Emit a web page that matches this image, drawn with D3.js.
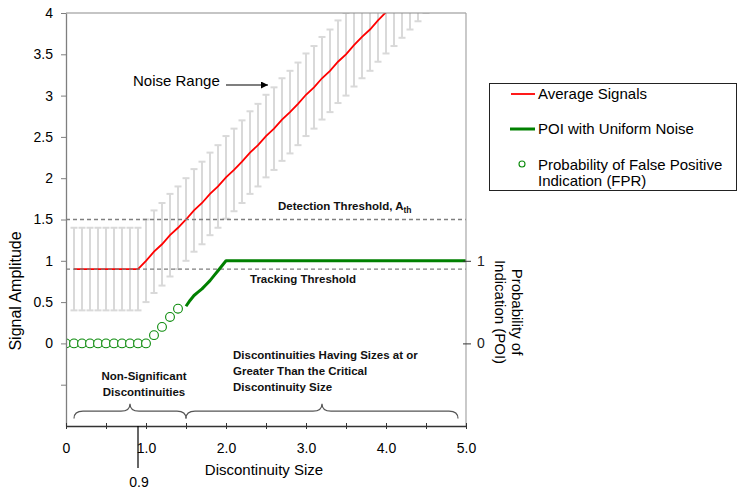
<!DOCTYPE html>
<html>
<head>
<meta charset="utf-8">
<script src="https://cdn.jsdelivr.net/npm/d3@7"></script>
<style>
  body { margin: 0; background: #fff; }
  svg { display: block; font-family: "Liberation Sans", Arial, sans-serif; }
</style>
</head>
<body>
<svg id="chart" width="739" height="494"></svg>
<script>
// Discontinuity sizes at which the average signal and noise range are sampled
const discontinuitySizes = [
  0.1, 0.2, 0.3, 0.4, 0.5, 0.6, 0.7, 0.8, 0.9, 1.0,
  1.1, 1.2, 1.3, 1.4, 1.5, 1.6, 1.7, 1.8, 1.9, 2.0,
  2.1, 2.2, 2.3, 2.4, 2.5, 2.6, 2.7, 2.8, 2.9, 3.0,
  3.1, 3.2, 3.3, 3.4, 3.5, 3.6, 3.7, 3.8, 3.9, 4.0,
  4.1, 4.2, 4.3, 4.4, 4.5, 4.6, 4.7, 4.8, 4.9, 5.0
];
// Average signal amplitude at each size
const averageSignals = [
  0.90, 0.90, 0.90, 0.90, 0.90, 0.90, 0.90, 0.90, 0.90, 1.00,
  1.11, 1.20, 1.31, 1.40, 1.50, 1.61, 1.70, 1.81, 1.90, 2.01,
  2.10, 2.20, 2.31, 2.40, 2.51, 2.60, 2.71, 2.80, 2.90, 3.01,
  3.10, 3.21, 3.30, 3.41, 3.50, 3.61, 3.71, 3.80, 3.91, 4.01,
  4.10, 4.20, 4.30, 4.40, 4.50, 4.60, 4.70, 4.80, 4.90, 5.00
];
// Half-width of the uniform noise band around the average signal
const noiseHalfRange = 0.5;

// Probability of indication with uniform noise
const poiSizes  = [1.50, 1.55, 1.60, 1.65, 1.70, 1.75, 1.80, 1.85, 1.90, 1.95, 2.00, 5.00];
const poiValues = [0.45, 0.52, 0.58, 0.62, 0.66, 0.71, 0.76, 0.82, 0.88, 0.94, 1.00, 1.00];

// Probability of false positive indication
const fprSizes  = [0.0, 0.1, 0.2, 0.3, 0.4, 0.5, 0.6, 0.7, 0.8, 0.9, 1.0, 1.1, 1.2, 1.3, 1.4];
const fprValues = [0.0, 0.0, 0.0, 0.0, 0.0, 0.0, 0.0, 0.0, 0.0, 0.0, 0.0, 0.10, 0.20, 0.32, 0.42];

const xTickValues = [0, 0.5, 1, 1.5, 2, 2.5, 3, 3.5, 4, 4.5, 5];
const xTickLabels = ["0", "", "1.0", "", "2.0", "", "3.0", "", "4.0", "", "5.0"];
const yTickValues = [-0.5, 0, 0.5, 1, 1.5, 2, 2.5, 3, 3.5, 4];
const yTickLabels = ["", "0", "0.5", "1", "1.5", "2", "2.5", "3", "3.5", "4"];
const poiTickValues = [0, 1];

const detectionThreshold = 1.5;
const trackingThreshold = 0.9;
const criticalSize = 0.9;

const svg = d3.select("#chart");

const x = d3.scaleLinear().domain([0, 5]).range([66, 466]);
const y = d3.scaleLinear().domain([-1, 4]).range([426, 13]);
const yPoi = d3.scaleLinear().domain([0, 1]).range([y(0), y(1)]);

svg.append("defs").append("clipPath").attr("id", "plotClip")
  .append("rect")
  .attr("x", x(0)).attr("y", y(4))
  .attr("width", x(5) - x(0)).attr("height", y(-1) - y(4));

svg.select("defs").append("marker")
  .attr("id", "arrowHead").attr("viewBox", "0 0 10 10")
  .attr("refX", 10).attr("refY", 5)
  .attr("markerWidth", 8).attr("markerHeight", 7)
  .attr("markerUnits", "userSpaceOnUse")
  .attr("orient", "auto")
  .append("path").attr("d", "M0,0 L10,5 L0,10 z").attr("fill", "#000");

const plot = svg.append("g").attr("clip-path", "url(#plotClip)");

// Noise range bars around the average signal
const bars = plot.append("g").attr("stroke", "#d9d9d9").attr("stroke-width", 2);
discontinuitySizes.forEach((s, i) => {
  const lo = averageSignals[i] - noiseHalfRange;
  const hi = averageSignals[i] + noiseHalfRange;
  const cx = x(s);
  bars.append("line").attr("x1", cx).attr("x2", cx).attr("y1", y(lo)).attr("y2", y(hi));
  bars.append("line").attr("x1", cx - 3.5).attr("x2", cx + 3.5).attr("y1", y(hi)).attr("y2", y(hi));
  bars.append("line").attr("x1", cx - 3.5).attr("x2", cx + 3.5).attr("y1", y(lo)).attr("y2", y(lo));
});

// Average signal line
plot.append("path")
  .datum(discontinuitySizes.map((s, i) => [s, averageSignals[i]]))
  .attr("fill", "none").attr("stroke", "#ff0000").attr("stroke-width", 1.8)
  .attr("d", d3.line().x(d => x(d[0])).y(d => y(d[1])));

// Threshold lines
[detectionThreshold, trackingThreshold].forEach(t => {
  plot.append("line")
    .attr("x1", x(0)).attr("x2", x(5))
    .attr("y1", y(t)).attr("y2", y(t))
    .attr("stroke", "#7f7f7f").attr("stroke-width", 1.3)
    .attr("stroke-dasharray", "4,3");
});

// POI line
plot.append("path")
  .datum(poiSizes.map((s, i) => [s, poiValues[i]]))
  .attr("fill", "none").attr("stroke", "#008000").attr("stroke-width", 3)
  .attr("stroke-linejoin", "round")
  .attr("d", d3.line().x(d => x(d[0])).y(d => yPoi(d[1])));

// False positive markers
plot.append("g").selectAll("circle")
  .data(fprSizes.map((s, i) => [s, fprValues[i]]))
  .join("circle")
  .attr("cx", d => x(d[0])).attr("cy", d => yPoi(d[1])).attr("r", 4.4)
  .attr("fill", "#fff").attr("stroke", "#0a8a0a").attr("stroke-width", 1.1);

// Frame: top and right edges
svg.append("line").attr("x1", x(0)).attr("x2", x(5)).attr("y1", y(4)).attr("y2", y(4))
  .attr("stroke", "#8c8c8c").attr("stroke-width", 1.2);
svg.append("line").attr("x1", x(5)).attr("x2", x(5)).attr("y1", y(4)).attr("y2", y(-1))
  .attr("stroke", "#a6a6a6").attr("stroke-width", 1.2);

// Left axis
const yAxis = svg.append("g").attr("transform", `translate(${x(0)},0)`)
  .call(d3.axisLeft(y).tickValues(yTickValues).tickSize(5).tickSizeOuter(0).tickPadding(8)
    .tickFormat((d, i) => yTickLabels[i]));
yAxis.select(".domain").attr("stroke", "#7f7f7f").attr("stroke-width", 1.3);
yAxis.selectAll(".tick line").attr("stroke", "#7f7f7f");
yAxis.selectAll(".tick text").attr("font-size", 14).attr("fill", "#000")
  .attr("font-family", "'Liberation Sans', Arial, sans-serif");

// Bottom axis with ticks crossing the line
const xAxis = svg.append("g").attr("transform", `translate(0,${y(-1)})`)
  .call(d3.axisBottom(x).tickValues(xTickValues).tickSize(3).tickSizeOuter(0).tickPadding(14)
    .tickFormat((d, i) => xTickLabels[i]));
xAxis.select(".domain").attr("stroke", "#333").attr("stroke-width", 1.3);
xAxis.selectAll(".tick line").attr("y1", -3).attr("stroke", "#333");
xAxis.selectAll(".tick text").attr("font-size", 14).attr("fill", "#000")
  .attr("font-family", "'Liberation Sans', Arial, sans-serif");

// Right POI axis
const poiAxis = svg.append("g").attr("transform", `translate(${x(5)},0)`)
  .call(d3.axisRight(yPoi).tickValues(poiTickValues).tickSize(5).tickSizeOuter(0).tickPadding(6)
    .tickFormat(d3.format("d")));
poiAxis.select(".domain").remove();
poiAxis.selectAll(".tick line").attr("x1", -3).attr("stroke", "#333");
poiAxis.selectAll(".tick text").attr("font-size", 14).attr("fill", "#222")
  .attr("font-family", "'Liberation Sans', Arial, sans-serif");

// Critical size marker below the axis
svg.append("line")
  .attr("x1", x(criticalSize)).attr("x2", x(criticalSize))
  .attr("y1", y(-1)).attr("y2", y(-1) + 42)
  .attr("stroke", "#000").attr("stroke-width", 1.2);
svg.append("text").attr("x", x(criticalSize) + 1).attr("y", 487)
  .attr("text-anchor", "middle").attr("font-size", 14).text("0.9");

// Axis titles
svg.append("text").attr("x", x(2.5) - 2).attr("y", 475)
  .attr("text-anchor", "middle").attr("font-size", 15).text("Discontinuity Size");
svg.append("text").attr("transform", "translate(21,291) rotate(-90)")
  .attr("text-anchor", "middle").attr("font-size", 16).text("Signal Amplitude");
const poiTitle = svg.append("text").attr("transform", "translate(512,312) rotate(90)")
  .attr("text-anchor", "middle").attr("font-size", 15);
poiTitle.append("tspan").attr("x", 0).attr("dy", 0).text("Probability of");
poiTitle.append("tspan").attr("x", 0).attr("dy", 17).text("Indication (POI)");

// Annotations
svg.append("text").attr("x", 133).attr("y", 86).attr("font-size", 15).text("Noise Range");
svg.append("line").attr("x1", 226).attr("x2", 268).attr("y1", 85).attr("y2", 85)
  .attr("stroke", "#000").attr("stroke-width", 1.2).attr("marker-end", "url(#arrowHead)");

const det = svg.append("text").attr("x", 278).attr("y", 210)
  .attr("font-size", 11.5).attr("font-weight", "bold").attr("fill", "#111");
det.append("tspan").text("Detection Threshold, A");
det.append("tspan").attr("font-size", 8.5).attr("dy", 3).text("th");

svg.append("text").attr("x", 250).attr("y", 283)
  .attr("font-size", 11.5).attr("font-weight", "bold").attr("fill", "#111")
  .text("Tracking Threshold");

const nonSig = svg.append("text").attr("text-anchor", "middle")
  .attr("font-size", 11.5).attr("font-weight", "bold").attr("fill", "#111");
nonSig.append("tspan").attr("x", 144).attr("y", 380).text("Non-Significant");
nonSig.append("tspan").attr("x", 144).attr("y", 396).text("Discontinuities");

const sig = svg.append("text")
  .attr("font-size", 11.5).attr("font-weight", "bold").attr("fill", "#111");
sig.append("tspan").attr("x", 233).attr("y", 359).text("Discontinuities Having Sizes at or");
sig.append("tspan").attr("x", 233).attr("y", 375).text("Greater Than the Critical");
sig.append("tspan").attr("x", 233).attr("y", 391).text("Discontinuity Size");

// Curly braces spanning the two size groups
const braceGroups = [
  { from: 0.1, peak: 0.8, to: 1.5 },
  { from: 1.5, peak: 3.2, to: 4.9 }
];
function bracePath(b) {
  const x1 = x(b.from), xp = x(b.peak), x2 = x(b.to);
  const yEnd = y(-0.91), yBody = y(-0.82), yPeak = y(-0.73), r = 9;
  return `M${x1},${yEnd} Q${x1},${yBody} ${x1 + r},${yBody} L${xp - r},${yBody} ` +
    `Q${xp},${yBody} ${xp},${yPeak} Q${xp},${yBody} ${xp + r},${yBody} ` +
    `L${x2 - r},${yBody} Q${x2},${yBody} ${x2},${yEnd}`;
}
svg.append("g").selectAll("path").data(braceGroups).join("path")
  .attr("d", bracePath).attr("fill", "none")
  .attr("stroke", "#555").attr("stroke-width", 1.2);

// Legend
const legend = svg.append("g");
legend.append("rect").attr("x", 489.5).attr("y", 83.5).attr("width", 247).attr("height", 107)
  .attr("fill", "#fff").attr("stroke", "#222").attr("stroke-width", 1);
legend.append("line").attr("x1", 511).attr("x2", 535).attr("y1", 94).attr("y2", 94)
  .attr("stroke", "#ff0000").attr("stroke-width", 1.8);
legend.append("text").attr("x", 538).attr("y", 99).attr("font-size", 15).text("Average Signals");
legend.append("line").attr("x1", 510).attr("x2", 535).attr("y1", 129).attr("y2", 129)
  .attr("stroke", "#008000").attr("stroke-width", 3);
legend.append("text").attr("x", 538).attr("y", 134).attr("font-size", 15).text("POI with Uniform Noise");
legend.append("circle").attr("cx", 522).attr("cy", 164).attr("r", 3)
  .attr("fill", "#fff").attr("stroke", "#0a8a0a").attr("stroke-width", 1.1);
const fprLabel = legend.append("text").attr("font-size", 15);
fprLabel.append("tspan").attr("x", 538).attr("y", 170).text("Probability of False Positive");
fprLabel.append("tspan").attr("x", 538).attr("y", 186).text("Indication (FPR)");
</script>
</body>
</html>
